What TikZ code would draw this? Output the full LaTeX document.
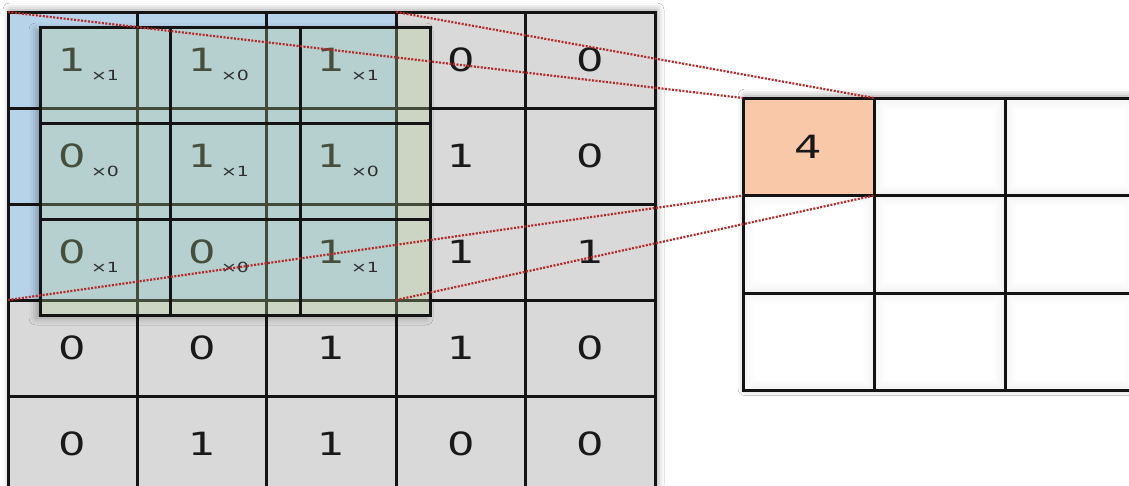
\documentclass[tikz,border=0pt]{standalone}
\usepackage{fontspec}
\setmainfont{DejaVu Sans}
\newfontfamily\digitfont[FakeStretch=1.35]{DejaVu Sans}
\usetikzlibrary{shadows.blur}
\definecolor{cellgray}{RGB}{217,217,217}
\definecolor{cellblue}{RGB}{183,211,234}
\definecolor{filtc}{RGB}{177,204,147}
\definecolor{outorange}{RGB}{248,200,168}
\definecolor{dotred}{RGB}{185,40,40}
\begin{document}
\begin{tikzpicture}[x=1pt,y=-1pt,
  gridline/.style={draw=black!92,line width=3pt},
  incell/.style={gridline,rectangle,minimum width=129.4pt,minimum height=96pt,inner sep=0pt,outer sep=0pt,
    font=\digitfont\fontsize{32}{32}\selectfont,text=black!90},
  filtcell/.style={gridline,rectangle,minimum width=130pt,minimum height=96pt,inner sep=0pt,outer sep=0pt,
    fill=filtc,fill opacity=0.3,draw opacity=1,text opacity=1,text=black!82,
    font=\digitfont\fontsize{14}{14}\selectfont},
  outcell/.style={gridline,rectangle,minimum width=131pt,minimum height=97.5pt,inner sep=0pt,outer sep=0pt,
    fill=white,font=\digitfont\fontsize{32}{32}\selectfont,text=black!90},
  link/.style={draw=dotred,line width=2.2pt,dash pattern=on 2pt off 1.5pt}]
\useasboundingbox[fill=white] (0,0) rectangle (1129,485);
\clip (0,0) rectangle (1129,485);
% shadows of the grids
\path[fill=cellgray,blur shadow={shadow xshift=2pt,shadow yshift=2pt,shadow blur radius=7pt,shadow opacity=40}]
  (8,12) rectangle (655,492);
\path[fill=white,blur shadow={shadow xshift=2pt,shadow yshift=2pt,shadow blur radius=7pt,shadow opacity=40}]
  (743,98) rectangle (1137,390.5);
% input grid
\foreach \r/\vals in {1/{1,1,1,0,0},2/{0,1,1,1,0},3/{0,0,1,1,1},4/{0,0,1,1,0},5/{0,1,1,0,0}}{
  \foreach \v [count=\c] in \vals {
    \ifnum\r<4 \ifnum\c<4 \def\fc{cellblue}\else\def\fc{cellgray}\fi\else\def\fc{cellgray}\fi
    \node[incell,fill=\fc] (i-\r-\c) at ({8+(\c-0.5)*129.4},{12+(\r-0.5)*96}) {\v};
  }
}
% shadow of the filter, outside the filter only
\begin{scope}[even odd rule]
  \clip (0,0) rectangle (1129,485) (40,27) rectangle (430,315);
  \path[blur shadow={shadow xshift=-4pt,shadow yshift=-3pt,shadow blur radius=7pt,shadow opacity=30}]
    (40,27) rectangle (430,315);
\end{scope}
% filter overlay
\foreach \r/\vals in {1/{1,0,1},2/{0,1,0},3/{1,0,1}}{
  \foreach \w [count=\c] in \vals {
    \node[filtcell] (f-\r-\c) at ({40+(\c-0.5)*130},{27+(\r-0.5)*96}) {×\w};
  }
}
% output grid
\foreach \r in {1,2,3}{
  \foreach \c in {1,2,3}{
    \node[outcell] (o-\r-\c) at ({743+(\c-0.5)*131},{98+(\r-0.5)*97.5}) {};
    \foreach \d in {2,3.5,...,11}{
      \pgfmathsetmacro\op{0.05*(1-\d/12)}
      \draw[draw=black,line width=1.5pt,draw opacity=\op]
        ([shift={(\d pt,-\d pt)}]o-\r-\c.north west) rectangle ([shift={(-\d pt,\d pt)}]o-\r-\c.south east);
    }
  }
}
\node[outcell,fill=outorange] (res) at (o-1-1.center) {4};
% projection lines
\draw[link] (i-1-1.north west) -- (res.north west);
\draw[link] (i-1-3.north east) -- (res.north east);
\draw[link] (i-3-1.south west) -- (res.south west);
\draw[link] (i-3-3.south east) -- (res.south east);
\end{tikzpicture}
\end{document}
